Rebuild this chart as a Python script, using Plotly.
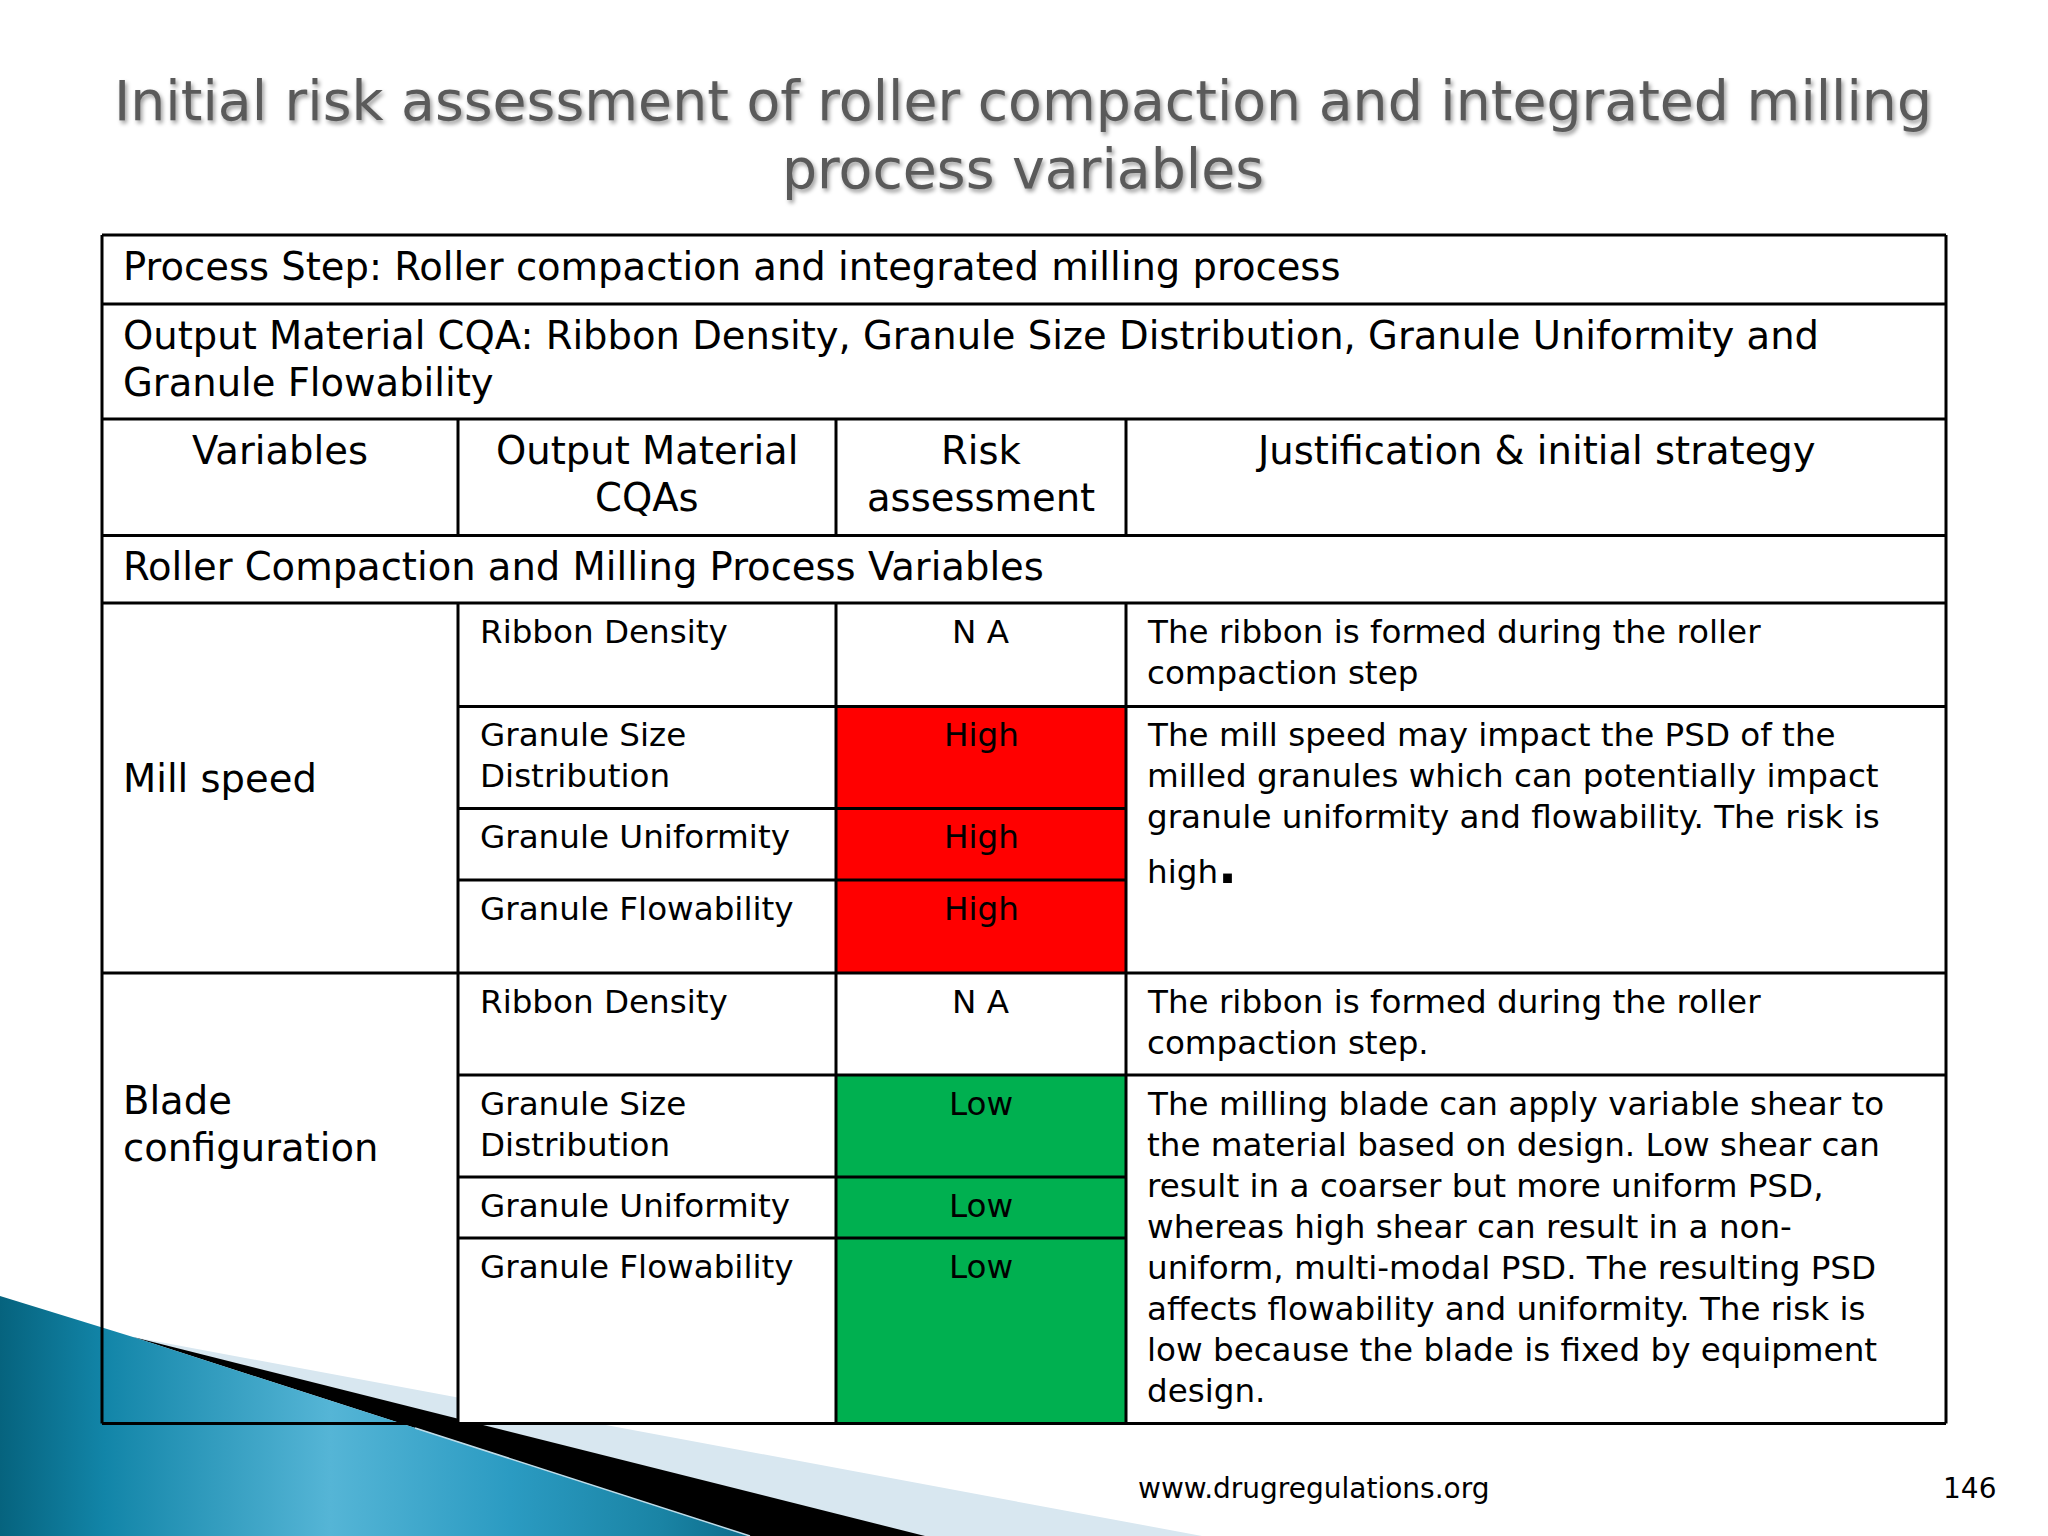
import plotly.graph_objects as go

FONT = "DejaVu Sans"

##  ----  TABLE TEXT  ---  ##
title_lines = ["Initial risk assessment of roller compaction and integrated milling", "process variables"]
process_step = ["Process Step: Roller compaction and integrated milling process"]
output_cqa = ["Output Material CQA: Ribbon Density, Granule Size Distribution, Granule Uniformity and", "Granule Flowability"]
headers = [["Variables"], ["Output Material", "CQAs"], ["Risk", "assessment"], ["Justification & initial strategy"]]
section = ["Roller Compaction and Milling Process Variables"]

variables = [["Mill speed"], ["Blade", "configuration"]]
cqas = [["Ribbon Density"], ["Granule Size", "Distribution"], ["Granule Uniformity"], ["Granule Flowability"],
        ["Ribbon Density"], ["Granule Size", "Distribution"], ["Granule Uniformity"], ["Granule Flowability"]]
risks = ["N A", "High", "High", "High", "N A", "Low", "Low", "Low"]
justifications = [
    ["The ribbon is formed during the roller", "compaction step"],
    ["The mill speed may impact the PSD of the", "milled granules which can potentially impact", "granule uniformity and flowability. The risk is"],
    ["The ribbon is formed during the roller", "compaction step."],
    ["The milling blade can apply variable shear to", "the material based on design. Low shear can", "result in a coarser but more uniform PSD,",
     "whereas high shear can result in a non-", "uniform, multi-modal PSD. The resulting PSD", "affects flowability and uniformity. The risk is",
     "low because the blade is fixed by equipment", "design."],
]
footer_url = "www.drugregulations.org"
page_number = "146"

##  ----  LAYOUT (page pixels)  ---  ##
col_x = [102, 458, 836, 1126, 1946]
top_rows = [235, 304, 419, 535.5, 603]
cqa_rows = [603, 706.5, 808.5, 880, 973, 1075, 1177, 1238, 1423.5]
just_rows = [0, 1, 4, 5]   # cqa row where each justification starts
risk_colors = {"N A": "white", "High": "#FF0000", "Low": "#00B050"}

BIG = 38.5
SMALL = 32.6
BIG_GAP = 47.7
SMALL_GAP = 41
PAD = 20

fig = go.Figure()

##  ----  BACKGROUND WEDGE  ---  ##
fig.add_trace(go.Scatter(x=[133, 1202, 0, 0], y=[1337, 1536, 1536, 1337], mode="none", fill="toself", fillcolor="#D8E7F0", hoverinfo="skip"))
fig.add_trace(go.Scatter(x=[133, 925, 750], y=[1337, 1536, 1536], mode="none", fill="toself", fillcolor="black", hoverinfo="skip"))
fig.add_trace(go.Scatter(x=[0, 133, 750, 0], y=[1296, 1337, 1536, 1536], mode="none", fill="toself",
                         fillgradient=dict(type="horizontal", colorscale=[[0, "#06637E"], [0.14, "#1285A8"], [0.44, "#55B5D6"], [0.68, "#2B9BC2"], [0.88, "#1A84A5"], [1, "#0C6B8A"]]),
                         hoverinfo="skip"))
fig.add_trace(go.Scatter(x=[415, 750], y=[1428, 1536], mode="lines", line=dict(color="#BFDCE8", width=1.5), hoverinfo="skip"))

shapes = []

def rect(x0, y0, x1, y1, color):
    shapes.append(dict(type="rect", xref="x", yref="y", layer="above", x0=x0, y0=y0, x1=x1, y1=y1, fillcolor=color, line_width=0))

def line(x0, y0, x1, y1, w=3):
    shapes.append(dict(type="line", xref="x", yref="y", layer="above", x0=x0, y0=y0, x1=x1, y1=y1, line=dict(color="black", width=w)))

##  ----  CELL FILLS  ---  ##
rect(col_x[1], top_rows[4], col_x[4], cqa_rows[8], "white")
for i in range(len(risks)):
    rect(col_x[2], cqa_rows[i], col_x[3], cqa_rows[i + 1], risk_colors[risks[i]])

##  ----  GRID LINES  ---  ##
for y in top_rows:
    line(col_x[0], y, col_x[4], y)
for x in col_x[1:4]:
    line(x, top_rows[2], x, top_rows[3])
    line(x, top_rows[4], x, cqa_rows[8])
line(col_x[0], top_rows[0], col_x[0], cqa_rows[8])
line(col_x[4], top_rows[0], col_x[4], cqa_rows[8])
line(col_x[0], cqa_rows[8], col_x[4], cqa_rows[8])
line(col_x[0], cqa_rows[4], col_x[4], cqa_rows[4])
for i in [1, 2, 3, 5, 6, 7]:
    line(col_x[1], cqa_rows[i], col_x[3], cqa_rows[i])
for i in [1, 5]:
    line(col_x[3], cqa_rows[i], col_x[4], cqa_rows[i])

##  ----  TEXT  ---  ##
annotations = []

def add_text(lines, x, y, size, gap, anchor="left", color="black", shadow=None):
    for i, txt in enumerate(lines):
        f = dict(family=FONT, size=size, color=color)
        if shadow:
            f["shadow"] = shadow
        annotations.append(dict(text=txt, x=x, y=y + i * gap, xref="x", yref="y", xanchor=anchor, yanchor="middle", showarrow=False, font=f))

add_text(title_lines, 1023, 101, 55.3, 68, "center", "#5A5A5A", "2px 3px 4px #9A9A9A")
add_text(process_step, col_x[0] + 19, top_rows[0] + 31, BIG, BIG_GAP)
add_text(output_cqa, col_x[0] + 19, top_rows[1] + 31, BIG, BIG_GAP)
for i, h in enumerate(headers):
    add_text(h, (col_x[i] + col_x[i + 1]) / 2, top_rows[2] + 31, BIG, BIG_GAP, "center")
add_text(section, col_x[0] + 19, top_rows[3] + 31, BIG, BIG_GAP)

add_text(variables[0], col_x[0] + 19, 778, BIG, BIG_GAP)
add_text(variables[1], col_x[0] + 19, 1100, BIG, BIG_GAP)

for i in range(len(cqas)):
    add_text(cqas[i], col_x[1] + PAD, cqa_rows[i] + 28.5, SMALL, SMALL_GAP)
    add_text([risks[i]], (col_x[2] + col_x[3]) / 2, cqa_rows[i] + 28.5, SMALL, SMALL_GAP, "center")
for i in range(len(justifications)):
    add_text(justifications[i], col_x[3] + 19, cqa_rows[just_rows[i]] + 28.5, SMALL, SMALL_GAP)
add_text(["high<b><span style='font-size:50px'>.</span></b>"], col_x[3] + 19, 866, SMALL, SMALL_GAP)

add_text([footer_url], 1136, 1488, 28, 0)
add_text([page_number], 1998, 1488, 28, 0, "right")

fig.update_layout(
    width=2048, height=1536, margin=dict(l=0, r=0, t=0, b=0),
    plot_bgcolor="white", paper_bgcolor="white", showlegend=False,
    shapes=shapes, annotations=annotations,
    xaxis=dict(range=[0, 2048], visible=False, fixedrange=True),
    yaxis=dict(range=[1536, 0], visible=False, fixedrange=True),
)
fig.write_html("out.html", config={"displayModeBar": False}, post_script="document.body.style.margin='0';")
